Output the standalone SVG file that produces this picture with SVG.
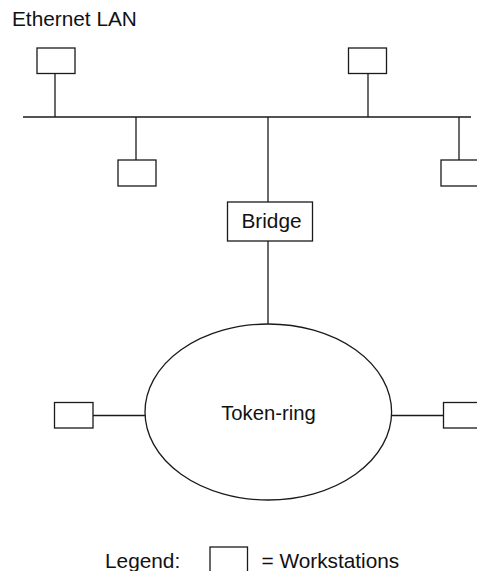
<svg xmlns="http://www.w3.org/2000/svg" width="477" height="571" viewBox="0 0 477 571">
<style>
.b{fill:#fff;stroke:#1a1a1a;stroke-width:1.3}
.c{fill:none;stroke:#1a1a1a;stroke-width:1.3}
.t{font-family:"Liberation Sans",Arial,Helvetica,sans-serif;font-size:20.8px;fill:#111}
</style>
<rect width="477" height="571" fill="#fff"/>
<text class="t" x="12" y="26">Ethernet LAN</text>
<g id="connectors">
<line class="c" x1="23" y1="117" x2="471" y2="117"/>
<line class="c" x1="55" y1="73" x2="55" y2="117"/>
<line class="c" x1="368" y1="73" x2="368" y2="117"/>
<line class="c" x1="136" y1="117" x2="136" y2="160"/>
<line class="c" x1="459" y1="117" x2="459" y2="160"/>
<line class="c" x1="268" y1="117" x2="268" y2="202"/>
<line class="c" x1="268" y1="241" x2="268" y2="324"/>
<line class="c" x1="93" y1="415.5" x2="145" y2="415.5"/>
<line class="c" x1="391.5" y1="415.5" x2="443.5" y2="415.5"/>
</g>
<g id="ws-top-left"><rect class="b" x="37" y="48" width="38" height="25.5"/></g>
<g id="ws-top-right"><rect class="b" x="348.5" y="48" width="38" height="25.5"/></g>
<g id="ws-bottom-left"><rect class="b" x="118" y="160" width="38" height="26"/></g>
<g id="ws-bottom-right"><rect class="b" x="441" y="160" width="38" height="26"/></g>
<g id="bridge">
<rect class="b" x="227.5" y="202" width="85" height="39"/>
<text class="t" x="271.5" y="228" text-anchor="middle">Bridge</text>
</g>
<g id="token-ring">
<ellipse class="b" cx="268.3" cy="412" rx="123.3" ry="88"/>
<text class="t" x="268.5" y="420" text-anchor="middle" style="font-size:20.3px">Token-ring</text>
</g>
<g id="ws-ring-left"><rect class="b" x="54.5" y="402.5" width="38.5" height="25.5"/></g>
<g id="ws-ring-right"><rect class="b" x="443.5" y="402.5" width="38.5" height="25.5"/></g>
<g id="legend">
<text class="t" x="105" y="567.5">Legend:</text>
<rect class="b" x="210" y="547" width="37.5" height="30"/>
<text class="t" x="261.5" y="567.5">= Workstations</text>
</g>
</svg>
